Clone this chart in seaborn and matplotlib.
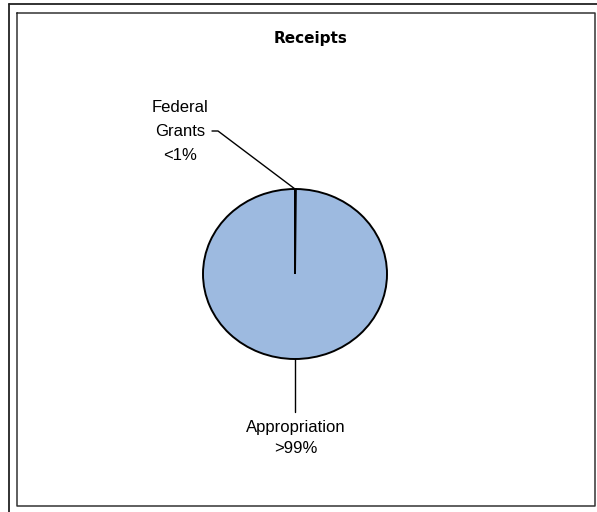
import numpy as np
import matplotlib
matplotlib.use("Agg")
import matplotlib.pyplot as plt
import seaborn as sns
from matplotlib.lines import Line2D

sns.set_theme(style="white")
plt.rcParams['font.family'] = ['Liberation Sans', 'DejaVu Sans']

# ---- data ----
categories = ["Federal Grants", "Appropriation"]
values = [0.15, 99.85]
label_texts = ["Federal\nGrants\n<1%", "Appropriation\n>99%"]
title = "Receipts"
pie_color = "#9dbae0"

W, H = 597, 512
fig = plt.figure(figsize=(W / 100, H / 100), dpi=100)
fig.patch.set_facecolor("white")

def fx(px):
    return px / W

def fy(py):
    return 1 - py / H

# frames (scanned box look)
fig.add_artist(Line2D([fx(9), fx(9)], [fy(4), fy(512)], color="#222222", lw=1.3))
fig.add_artist(Line2D([fx(9), fx(597)], [fy(4), fy(4)], color="#222222", lw=1.3))
fig.add_artist(Line2D([fx(17), fx(595), fx(595), fx(17), fx(17)],
                      [fy(13), fy(13), fy(506), fy(506), fy(13)],
                      color="#333333", lw=1.1))

# pie axes: centre (295,274), rx 92, ry 85
cx, cy, rx, ry = 295, 274, 92, 85
ax = fig.add_axes([fx(cx - rx), fy(cy + ry), 2 * rx / W, 2 * ry / H])
wedges, _ = ax.pie(values, colors=[pie_color, pie_color], startangle=90,
                   counterclock=False,
                   wedgeprops=dict(edgecolor="black", linewidth=1.4))
ax.set_aspect("auto")
ax.set_xlim(-1, 1)
ax.set_ylim(-1, 1)
ax.axis("off")

def dx(px):
    return (px - cx) / rx

def dy(py):
    return (cy - py) / ry

# Federal Grants label and leader
w0 = wedges[0]
a0 = np.deg2rad(max(w0.theta1, w0.theta2))
px0, py0 = np.cos(a0), np.sin(a0)
ax.plot([dx(212), dx(218), px0], [dy(131), dy(131), py0], color="black",
        lw=1.0, clip_on=False)
ax.text(dx(180), dy(131), label_texts[0], ha="center", va="center",
        fontsize=12, linespacing=1.75, color="black", clip_on=False)

# Appropriation label and leader
a1 = np.deg2rad(270)
ax.plot([np.cos(a1), np.cos(a1)], [np.sin(a1), dy(412)], color="black",
        lw=1.0, clip_on=False)
ax.text(0.01, dy(438), label_texts[1], ha="center", va="center",
        fontsize=12, linespacing=1.45, color="black", clip_on=False)

fig.text(fx(311), fy(38), title, ha="center", va="center", fontsize=11,
         fontweight="bold", family="DejaVu Sans", color="black")

fig.savefig("out.png", dpi=100, facecolor="white")
